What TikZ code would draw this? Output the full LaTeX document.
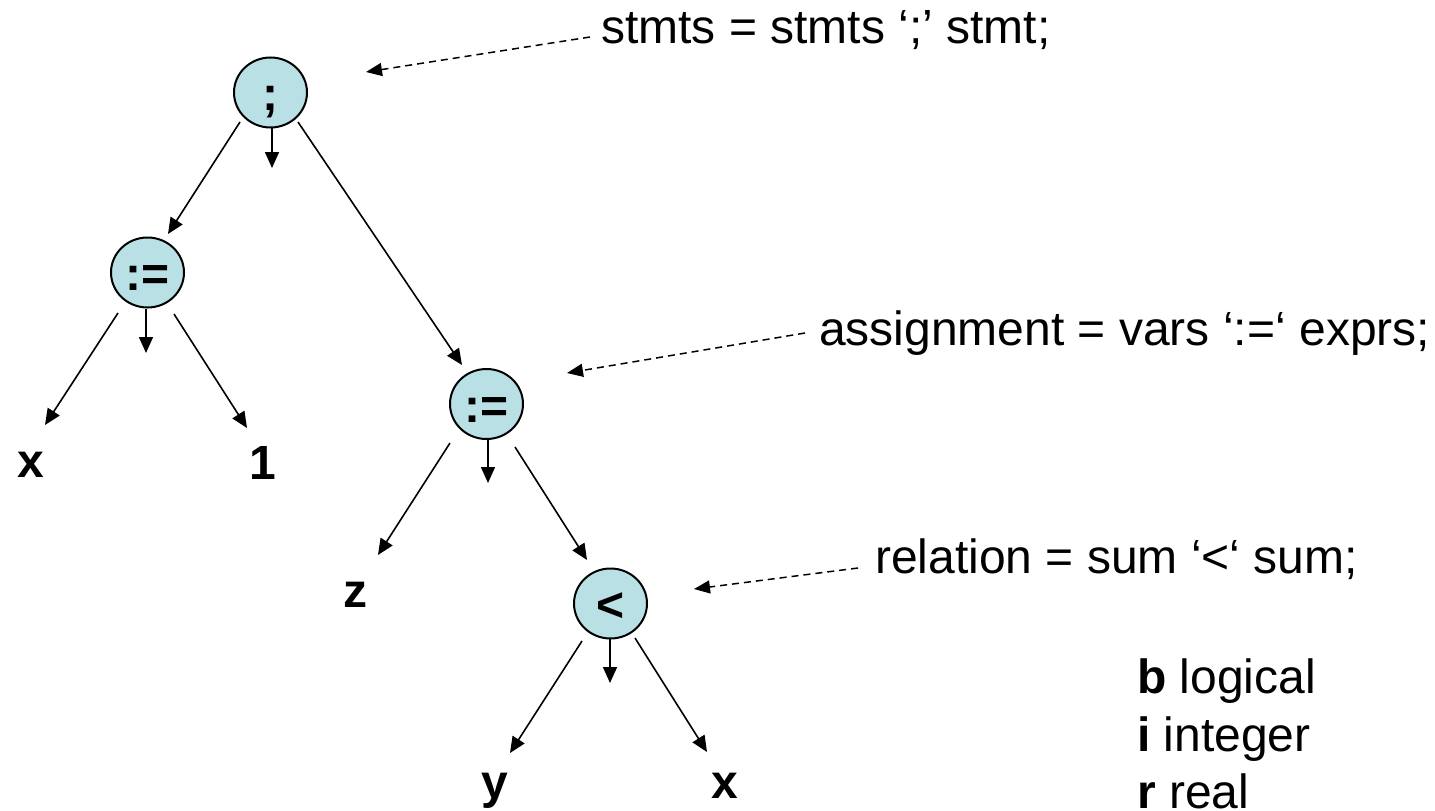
\documentclass[tikz,border=0pt]{standalone}
\usepackage{fontspec}
\setmainfont{Liberation Sans}
\usetikzlibrary{arrows.meta,shapes.geometric,calc}
\definecolor{nodefill}{RGB}{185,224,228}
\begin{document}
\begin{tikzpicture}[x=1pt,y=-1pt,
  opnode/.style={ellipse,draw=black,line width=2pt,fill=nodefill,minimum width=73pt,minimum height=70pt,inner sep=0pt,
    font=\fontsize{48}{48}\selectfont\bfseries,text height=36pt,text depth=0pt},
  leaf/.style={anchor=base,inner sep=0pt,font=\fontsize{48}{48}\selectfont\bfseries},
  rule/.style={anchor=base west,inner sep=0pt,font=\fontsize{48}{48}\selectfont},
  edge/.style={line width=1.6pt,-{Triangle[length=16pt,width=14pt]}},
  hint/.style={line width=1.5pt,dash pattern=on 7pt off 5pt,-{Triangle[length=16pt,width=13pt]}}]
\path[use as bounding box] (0,0) rectangle (1435,811);

% operator nodes
\node[opnode] (top) at (270.5,92.5) {;};
\node[opnode] (la) at (147.5,272.5) {:=};
\node[opnode] (ma) at (486.5,404) {:=};
\node[opnode] (lt) at (610.5,603.5) {<};

% leaves
\node[leaf] (x1) at (31,477) {x};
\node[leaf] (one) at (263,479) {1};
\node[leaf] (z) at (355,607) {z};
\node[leaf] (y) at (495,798) {y};
\node[leaf] (x2) at (725,798) {x};

% rules
\node[rule] (r1) at (601,43) {stmts = stmts ‘;’ stmt;};
\node[rule] (r2) at (819,345) {assignment = vars ‘:=‘ exprs;};
\node[rule] (r3) at (875,573) {relation = sum ‘<‘ sum;};

% legend
\node[rule] (lg1) at (1137,693) {\textbf{b} logical};
\node[rule] (lg2) at (1137,751) {\textbf{i} integer};
\node[rule] (lg3) at (1137,808) {\textbf{r} real};

% edge end points
\coordinate (topLs) at ($(top)+(-30.5,29.5)$);
\coordinate (topLe) at ($(la)+(20.5,-38.5)$);
\coordinate (topDs) at ($(top)+(1.5,34.5)$);
\coordinate (topDe) at ($(top)+(1.5,75.5)$);
\coordinate (topRs) at ($(top)+(27.5,29.5)$);
\coordinate (topRe) at ($(ma)+(-24.5,-39)$);

\coordinate (laLs) at ($(la)+(-29.5,40.5)$);
\coordinate (laLe) at ($(la)+(-102.5,152.5)$);
\coordinate (laDs) at ($(la)+(-1.5,36.5)$);
\coordinate (laDe) at ($(la)+(-1.5,80.5)$);
\coordinate (laRs) at ($(la)+(26.5,41.5)$);
\coordinate (laRe) at ($(la)+(99.5,155.5)$);

\coordinate (maLs) at ($(ma)+(-36.5,39)$);
\coordinate (maLe) at ($(ma)+(-108.5,151)$);
\coordinate (maDs) at ($(ma)+(1.5,36)$);
\coordinate (maDe) at ($(ma)+(1.5,79)$);
\coordinate (maRs) at ($(ma)+(28.5,43)$);
\coordinate (maRe) at ($(lt)+(-23.5,-43.5)$);

\coordinate (ltLs) at ($(lt)+(-28.5,37.5)$);
\coordinate (ltLe) at ($(lt)+(-100.5,149.5)$);
\coordinate (ltDs) at ($(lt)+(-0.5,34.5)$);
\coordinate (ltDe) at ($(lt)+(-0.5,79.5)$);
\coordinate (ltRs) at ($(lt)+(24.5,34.5)$);
\coordinate (ltRe) at ($(lt)+(96.5,148.5)$);

\draw[edge] (topLs) -- (topLe);
\draw[edge] (topDs) -- (topDe);
\draw[edge] (topRs) -- (topRe);
\draw[edge] (laLs) -- (laLe);
\draw[edge] (laDs) -- (laDe);
\draw[edge] (laRs) -- (laRe);
\draw[edge] (maLs) -- (maLe);
\draw[edge] (maDs) -- (maDe);
\draw[edge] (maRs) -- (maRe);
\draw[edge] (ltLs) -- (ltLe);
\draw[edge] (ltDs) -- (ltDe);
\draw[edge] (ltRs) -- (ltRe);

% dashed hints
\coordinate (h1s) at ($(r1.base west)+(-11,-6)$);
\coordinate (h1e) at ($(top)+(95.5,-20.5)$);
\coordinate (h2s) at ($(r2.base west)+(-14,-12)$);
\coordinate (h2e) at ($(ma)+(80.5,-31)$);
\coordinate (h3s) at ($(r3.base west)+(-17,-5)$);
\coordinate (h3e) at ($(lt)+(83.5,-14.5)$);
\draw[hint] (h1s) -- (h1e);
\draw[hint] (h2s) -- (h2e);
\draw[hint] (h3s) -- (h3e);
\end{tikzpicture}
\end{document}
